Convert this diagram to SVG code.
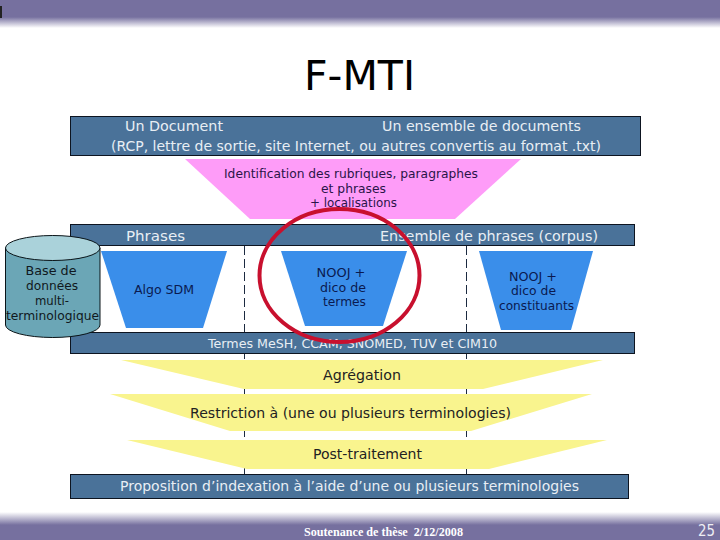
<svg xmlns="http://www.w3.org/2000/svg" width="720" height="540" viewBox="0 0 720 540">
<style>
.bar{fill:#4a7299;stroke:#0d1420;stroke-width:1}
.w{font-family:"DejaVu Sans",Verdana,sans-serif;font-size:14px;fill:#e8eef4}
.k{font-family:"DejaVu Sans",Verdana,sans-serif;font-size:14px;fill:#222}
.t{font-family:"DejaVu Sans Condensed","DejaVu Sans",sans-serif;font-size:13px;fill:#2a1448}
.n{font-family:"DejaVu Sans",sans-serif;font-size:13px;fill:#0a1a50;text-anchor:middle}
.c{font-family:"DejaVu Sans",sans-serif;font-size:13px;fill:#101820;text-anchor:middle}
.trap{fill:#3a8eea}
.yel{fill:#f9f48e}
.dash{stroke:#1c2a40;stroke-width:1;stroke-dasharray:9 4;fill:none}
</style>
<defs>
<linearGradient id="gt" x1="0" y1="0" x2="0" y2="1"><stop offset="0" stop-color="#76709f"/><stop offset="1" stop-color="#fff"/></linearGradient>
<linearGradient id="gb" x1="0" y1="1" x2="0" y2="0"><stop offset="0" stop-color="#76709f"/><stop offset="1" stop-color="#fff"/></linearGradient>
</defs>
<rect width="720" height="540" fill="#fff"/>
<g id="top-band">
<rect x="0" y="0" width="720" height="17" fill="#76709f"/>
<rect x="0" y="17" width="720" height="11" fill="url(#gt)"/>
<rect x="0" y="6" width="2" height="12" fill="#222"/>
</g>
<g id="bottom-band">
<rect x="0" y="512" width="720" height="13" fill="url(#gb)"/>
<rect x="0" y="525" width="720" height="15" fill="#76709f"/>
<text x="304" y="536" xml:space="preserve" font-family="'Liberation Serif',serif" font-weight="bold" font-size="11.5" fill="#fff" textLength="159" lengthAdjust="spacingAndGlyphs">Soutenance de thèse  2/12/2008</text>
<text x="698" y="536" font-family="'DejaVu Sans',sans-serif" font-size="15" fill="#eeeef4" textLength="17" lengthAdjust="spacingAndGlyphs">25</text>
</g>
<text id="title" x="304" y="90" font-family="'DejaVu Sans',Verdana,sans-serif" font-size="40" fill="#000" textLength="111" lengthAdjust="spacingAndGlyphs">F-MTI</text>
<g id="connectors">
<line class="dash" x1="244.5" y1="246" x2="244.5" y2="475"/>
<line class="dash" x1="466.5" y1="246" x2="466.5" y2="475"/>
</g>
<g id="sources">
<rect class="bar" x="70.5" y="116.5" width="570" height="39"/>
<text class="w" x="125" y="131" textLength="98" lengthAdjust="spacingAndGlyphs">Un Document</text>
<text class="w" x="382" y="131" textLength="199" lengthAdjust="spacingAndGlyphs">Un ensemble de documents</text>
<text class="w" x="111" y="151" textLength="490" lengthAdjust="spacingAndGlyphs">(RCP, lettre de sortie, site Internet, ou autres convertis au format .txt)</text>
</g>
<g id="identification">
<polygon points="185,159 521,159 455,219 250,219" fill="#fe9cf8"/>
<text class="t" x="224" y="178" textLength="254" lengthAdjust="spacingAndGlyphs">Identification des rubriques, paragraphes</text>
<text class="t" x="321" y="193" textLength="65" lengthAdjust="spacingAndGlyphs">et phrases</text>
<text class="t" x="310" y="207" textLength="87" lengthAdjust="spacingAndGlyphs">+ localisations</text>
</g>
<g id="phrases">
<rect class="bar" x="70.5" y="224.5" width="564" height="21"/>
<text class="w" x="126" y="241" textLength="59" lengthAdjust="spacingAndGlyphs">Phrases</text>
<text class="w" x="380" y="241" textLength="218" lengthAdjust="spacingAndGlyphs">Ensemble de phrases (corpus)</text>
</g>
<g id="termes">
<rect class="bar" x="70.5" y="332.5" width="564" height="21"/>
<text class="w" x="208" y="348" style="font-size:13px" textLength="289" lengthAdjust="spacingAndGlyphs">Termes MeSH, CCAM, SNOMED, TUV et CIM10</text>
</g>
<g id="base">
<path d="M5.5,248 V325 A47.25,12.5 0 0 0 100,325 V248 Z" fill="#6ba6b6" stroke="#0a1418" stroke-width="1"/>
<ellipse cx="52.75" cy="248" rx="47.25" ry="12.5" fill="#aad2da" stroke="#0a1418" stroke-width="1"/>
<text class="c" x="51" y="275" textLength="51" lengthAdjust="spacingAndGlyphs">Base de</text>
<text class="c" x="52" y="290" textLength="52" lengthAdjust="spacingAndGlyphs">données</text>
<text class="c" x="52" y="305" textLength="34" lengthAdjust="spacingAndGlyphs">multi-</text>
<text class="c" x="52.5" y="320" textLength="93" lengthAdjust="spacingAndGlyphs">terminologique</text>
</g>
<g id="algo">
<polygon class="trap" points="101,251 227,251 203,328 126,328"/>
<text class="n" x="164" y="294" textLength="60" lengthAdjust="spacingAndGlyphs">Algo SDM</text>
</g>
<g id="nooj-termes">
<polygon class="trap" points="281,251 407,251 383,326 305,326"/>
<text class="n" x="341" y="277" textLength="49" lengthAdjust="spacingAndGlyphs">NOOJ +</text>
<text class="n" x="343" y="292" textLength="46" lengthAdjust="spacingAndGlyphs">dico de</text>
<text class="n" x="344.5" y="306" textLength="43" lengthAdjust="spacingAndGlyphs">termes</text>
</g>
<g id="nooj-constituants">
<polygon class="trap" points="479,251 593,251 571,330 501,330"/>
<text class="n" x="533" y="281" textLength="48" lengthAdjust="spacingAndGlyphs">NOOJ +</text>
<text class="n" x="533.5" y="295" textLength="45" lengthAdjust="spacingAndGlyphs">dico de</text>
<text class="n" x="536.5" y="310" textLength="75" lengthAdjust="spacingAndGlyphs">constituants</text>
</g>
<g id="agregation">
<polygon class="yel" points="121,360 603,360 483,389 244,389"/>
<text class="k" x="323" y="380" textLength="78" lengthAdjust="spacingAndGlyphs">Agrégation</text>
</g>
<g id="restriction">
<polygon class="yel" points="110,394 592,394 471,431 230,431"/>
<text class="k" x="190" y="418" textLength="321" lengthAdjust="spacingAndGlyphs">Restriction à (une ou plusieurs terminologies)</text>
</g>
<g id="post-traitement">
<polygon class="yel" points="127,440 607,440 489,469 247,469"/>
<text class="k" x="313" y="459" textLength="109" lengthAdjust="spacingAndGlyphs">Post-traitement</text>
</g>
<g id="proposition">
<rect class="bar" x="70.5" y="474.5" width="558" height="24"/>
<text class="w" x="120" y="491" textLength="459" lengthAdjust="spacingAndGlyphs">Proposition d’indexation à l’aide d’une ou plusieurs terminologies</text>
</g>
<ellipse id="highlight" cx="339.5" cy="275.5" rx="80" ry="66.5" fill="none" stroke="#c8102e" stroke-width="4"/>
</svg>
